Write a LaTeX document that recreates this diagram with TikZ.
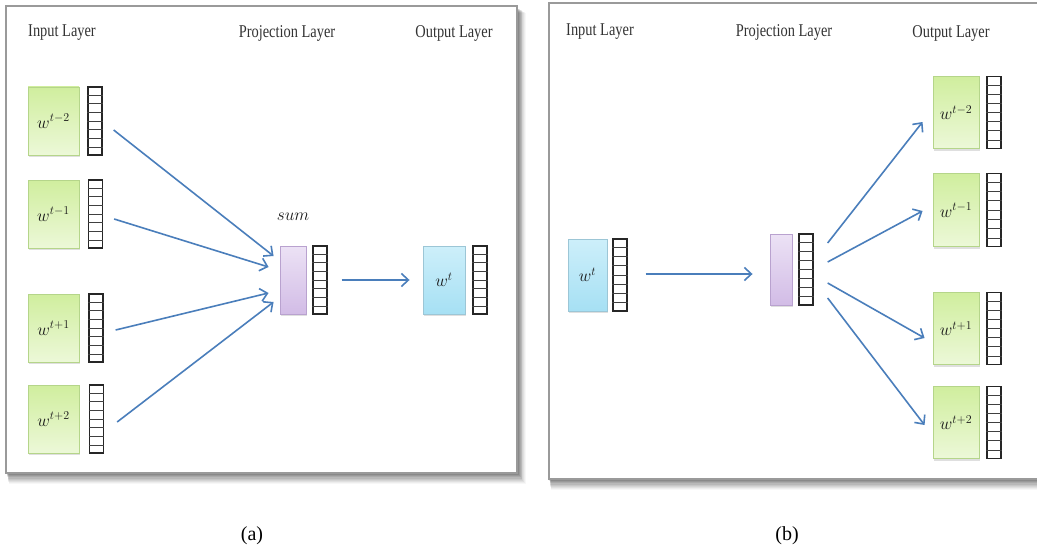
\documentclass[tikz,border=0pt]{standalone}
\usepackage{fontspec}
\setmainfont{Liberation Serif}
\usetikzlibrary{calc,arrows.meta,shadows}
\definecolor{arrowblue}{HTML}{4A7EBB}
\definecolor{gtop}{HTML}{D0EE9E}
\definecolor{gbot}{HTML}{ECF8D8}
\definecolor{gedge}{HTML}{B5D58A}
\definecolor{btop}{HTML}{CDEFFA}
\definecolor{bbot}{HTML}{A6E0F4}
\definecolor{bedge}{HTML}{9CC6D6}
\definecolor{ptop}{HTML}{ECE2F5}
\definecolor{pbot}{HTML}{D2BCE6}
\definecolor{pedge}{HTML}{B9A2CF}
\definecolor{frameedge}{HTML}{9A9A9A}
\definecolor{labelgray}{HTML}{333333}
\tikzset{
  wordbox/.style={draw=#1edge, line width=0.9pt, inner sep=0pt,
    drop shadow={opacity=0.25, shadow xshift=1.2pt, shadow yshift=-2pt}},
  greenbox/.style={wordbox=g, top color=gtop, bottom color=gbot},
  bluebox/.style={wordbox=b, top color=btop, bottom color=bbot},
  purplebox/.style={wordbox=p, top color=ptop, bottom color=pbot},
  vecbox/.style={draw=black!85, line width=1.3pt, fill=white, inner sep=0pt, minimum width=14pt},
  cell/.style={draw=black!75, line width=0.7pt},
  conn/.style={draw=arrowblue, line width=1.6pt, -{Straight Barb[length=7pt,width=13pt,line width=1.6pt]}},
  layerlabel/.style={text=labelgray, inner sep=0pt},
  caption/.style={inner sep=0pt, font=\fontsize{20}{24}\selectfont},
  wlabel/.style={font=\fontsize{17}{20}\selectfont, text=black!90},
  framebox/.style={draw=frameedge, line width=1.3pt, fill=white}
}
\newcommand{\layertext}[1]{\scalebox{0.8}[1]{\fontsize{18}{20}\selectfont #1}}
\begin{document}
\begin{tikzpicture}[x=1pt,y=-1pt]
\useasboundingbox (0,0) rectangle (1037,551);
\clip (0,0) rectangle (1037,551);
\fill[white] (0,0) rectangle (1037,551);

% frame shadows
\foreach \s/\o in {10/0.03,9/0.04,8/0.05,7/0.05,6/0.06,5/0.07,4/0.08,3/0.09,2/0.1} {
  \fill[black, opacity=\o] (6+\s*0.3,8+\s*0.5) rectangle (517+\s*0.9,473+\s*1.1);
  \fill[black, opacity=\o] (549+\s*0.2,5+\s*0.5) rectangle (1045,479+\s*1.1);
}
% frames
\draw[framebox] (6,6) rectangle (517,473);
\path[fill=white] (549,3) rectangle (1045,479);
\draw[frameedge, line width=1.3pt] (1045,3) -- (549,3) -- (549,479) -- (1045,479);

% ---------------- panel (a) ----------------
\node[layerlabel] (aIn) at (62,33) {\layertext{Input Layer}};
\node[layerlabel] (aProj) at (287,33) {\layertext{Projection Layer}};
\node[layerlabel] (aOut) at (454,33) {\layertext{Output Layer}};

\node[greenbox, minimum width=51pt, minimum height=68pt, wlabel] (ag1) at (53.5,121) {$w^{t-2}$};
\node[greenbox, minimum width=51pt, minimum height=68pt, wlabel] (ag2) at (53.5,214) {$w^{t-1}$};
\node[greenbox, minimum width=51pt, minimum height=68pt, wlabel] (ag3) at (53.5,328) {$w^{t+1}$};
\node[greenbox, minimum width=51pt, minimum height=68pt, wlabel] (ag4) at (53.5,419) {$w^{t+2}$};
\node[vecbox, minimum height=68pt] (av1) at (95,121) {};
\node[vecbox, minimum height=68pt] (av2) at (95.5,214) {};
\node[vecbox, minimum height=68pt] (av3) at (96,328) {};
\node[vecbox, minimum height=68pt] (av4) at (96.5,419) {};

\node[purplebox, minimum width=26pt, minimum height=68pt] (ap) at (293,280) {};
\node[vecbox, minimum height=68pt] (apv) at (320,280) {};
\node[wlabel] (asum) at (293,217) {$sum$};

\node[bluebox, minimum width=42pt, minimum height=68pt, wlabel] (ab) at (444,280) {$w^{t}$};
\node[vecbox, minimum height=68pt] (abv) at (480,280) {};

\draw[conn] ($(av1.east)+(11,9)$) -- ($(ap.west)+(-6,-24)$);
\draw[conn] ($(av2.east)+(11,5)$) -- ($(ap.west)+(-11,-13)$);
\draw[conn] ($(av3.east)+(12,2)$) -- ($(ap.west)+(-11,13)$);
\draw[conn] ($(av4.east)+(13,3)$) -- ($(ap.west)+(-6,22)$);
\draw[conn] ($(apv.east)+(14,0)$) -- ($(ab.west)+(-13,0)$);

% ---------------- panel (b) ----------------
\node[layerlabel] (bIn) at (600,32) {\layertext{Input Layer}};
\node[layerlabel] (bProj) at (784,32) {\layertext{Projection Layer}};
\node[layerlabel] (bOut) at (951,33) {\layertext{Output Layer}};

\node[bluebox, minimum width=39pt, minimum height=72pt, wlabel] (bb) at (587.5,275) {$w^{t}$};
\node[vecbox, minimum height=72pt] (bbv) at (620,275) {};

\node[purplebox, minimum width=22pt, minimum height=71pt] (bp) at (781,269.5) {};
\node[vecbox, minimum height=71pt] (bpv) at (806,269.5) {};

\node[greenbox, minimum width=46pt, minimum height=72pt, wlabel] (bg1) at (956,112.5) {$w^{t-2}$};
\node[greenbox, minimum width=46pt, minimum height=73pt, wlabel] (bg2) at (956,210) {$w^{t-1}$};
\node[greenbox, minimum width=46pt, minimum height=72pt, wlabel] (bg3) at (956,328.5) {$w^{t+1}$};
\node[greenbox, minimum width=46pt, minimum height=72pt, wlabel] (bg4) at (956,422.5) {$w^{t+2}$};
\node[vecbox, minimum height=72pt] (bv1) at (994,112.5) {};
\node[vecbox, minimum height=73pt] (bv2) at (994,210) {};
\node[vecbox, minimum height=72pt] (bv3) at (994,328.5) {};
\node[vecbox, minimum height=72pt] (bv4) at (994,422.5) {};

\draw[conn] ($(bbv.east)+(18,-1)$) -- ($(bp.west)+(-17,4.5)$);
\draw[conn] ($(bpv.east)+(14,-26.5)$) -- ($(bg1.west)+(-10,9.5)$);
\draw[conn] ($(bpv.east)+(14,-7.5)$) -- ($(bg2.west)+(-10,1)$);
\draw[conn] ($(bpv.east)+(14,13.5)$) -- ($(bg3.west)+(-8,9.5)$);
\draw[conn] ($(bpv.east)+(14,28.5)$) -- ($(bg4.west)+(-8,2.5)$);

% vector cells
\foreach \v in {av1,av2,av3,av4,apv,abv,bbv,bpv,bv1,bv2,bv3,bv4} {
  \foreach \i in {1,...,7} {
    \draw[cell] ($(\v.north west)!\i/8!(\v.south west)$) -- ($(\v.north east)!\i/8!(\v.south east)$);
  }
}

% captions
\node[caption] (capA) at (252,536) {(a)};
\node[caption] (capB) at (787,536) {(b)};
\end{tikzpicture}
\end{document}
